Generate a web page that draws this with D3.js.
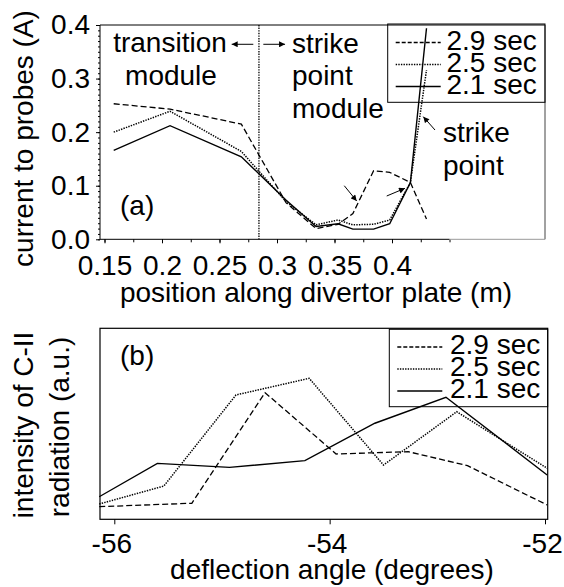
<!DOCTYPE html>
<html>
<head>
<meta charset="utf-8">
<script src="https://cdn.jsdelivr.net/npm/d3@7"></script>
<style>
  body { margin: 0; background: #fff; }
  svg text { font-family: "Liberation Sans", Arial, Helvetica, sans-serif; font-size: 28px; fill: #000; }
</style>
</head>
<body>
<svg width="564" height="587"></svg>
<script>
// ---- panel (a): current to probes vs position along divertor plate ----
const posA = [0.158, 0.207, 0.269, 0.308, 0.334, 0.353, 0.366, 0.384, 0.398, 0.416, 0.430];
const cur29 = [0.253, 0.243, 0.215, 0.068, 0.020, 0.028, 0.048, 0.128, 0.125, 0.106, 0.038];
const cur25 = [0.200, 0.239, 0.164, 0.070, 0.027, 0.036, 0.027, 0.028, 0.036, 0.106, 0.316];
const cur21 = [0.166, 0.212, 0.154, 0.073, 0.024, 0.029, 0.019, 0.019, 0.029, 0.106, 0.394];
const xTicksA = [0.15, 0.2, 0.25, 0.3, 0.35, 0.4];
const yTicksA = [0, 0.1, 0.2, 0.3, 0.4];
const moduleEdge = 0.2843;

// ---- panel (b): C-II intensity vs deflection angle ----
const ang29 = [-56.14, -55.28, -54.60, -53.94, -53.27, -52.72, -51.98];
const int29 = [0.066, 0.084, 0.663, 0.342, 0.354, 0.281, 0.075];
const ang25 = [-56.14, -55.54, -54.87, -54.19, -53.50, -52.82, -51.98];
const int25 = [0.080, 0.174, 0.651, 0.738, 0.284, 0.563, 0.267];
const ang21 = [-56.14, -55.60, -54.93, -54.23, -53.58, -52.92, -51.98];
const int21 = [0.118, 0.293, 0.272, 0.307, 0.503, 0.639, 0.232];
const xTicksB = [-56, -54, -52];

const seriesNames = ['2.9 sec', '2.5 sec', '2.1 sec'];
const dashes = ['6,3', '1.4,1.2', null];
const widths = [1.3, 1.5, 1.4];

const svg = d3.select('svg');

// scales
const xA = d3.scaleLinear().domain([0.15, 0.4]).range([104.5, 392]);
const yA = d3.scaleLinear().domain([0, 0.4]).range([239.3, 25]);
const xB = d3.scaleLinear().domain([-56, -52]).range([114.3, 545]);
const yB = d3.scaleLinear().domain([0, 1]).range([519.3, 328.3]);

const L = 100, RA = 545, RB = 547.7;

// arrow head marker
svg.append('defs').append('marker')
  .attr('id', 'head')
  .attr('viewBox', '0 0 10 10')
  .attr('refX', 10).attr('refY', 5)
  .attr('markerWidth', 7).attr('markerHeight', 6)
  .attr('markerUnits', 'userSpaceOnUse')
  .attr('orient', 'auto')
  .append('path').attr('d', 'M0,0L10,5L0,10z').attr('fill', '#000');

function drawLines(g, xs, ys, x, y) {
  const line = d3.line().x(d => x(d[0])).y(d => y(d[1]));
  ys.forEach(function (vals, i) {
    g.append('path')
      .datum(xs[i].map((v, j) => [v, vals[j]]))
      .attr('d', line)
      .attr('fill', 'none')
      .attr('stroke', '#000')
      .attr('stroke-width', widths[i])
      .attr('stroke-dasharray', dashes[i]);
  });
}

function legend(g, x0, y0, w, h, lineY, textX) {
  g.append('rect').attr('x', x0).attr('y', y0).attr('width', w).attr('height', h)
    .attr('fill', 'none').attr('stroke', '#000');
  seriesNames.forEach(function (s, i) {
    const ly = lineY + i * 22;
    g.append('line').attr('x1', x0 + 8).attr('x2', x0 + 53).attr('y1', ly).attr('y2', ly)
      .attr('stroke', '#000').attr('stroke-width', widths[i])
      .attr('stroke-dasharray', i === 0 ? '4,2' : dashes[i]);
    g.append('text').attr('x', textX).attr('y', ly + 7).text(s);
  });
}

function arrow(g, x1, y1, x2, y2) {
  g.append('line').attr('x1', x1).attr('y1', y1).attr('x2', x2).attr('y2', y2)
    .attr('stroke', '#000').attr('stroke-width', 1)
    .attr('marker-end', 'url(#head)');
}

// ===== panel (a) =====
const ga = svg.append('g');

// minor ticks
ga.append('g').attr('transform', 'translate(' + L + ',0)')
  .call(d3.axisLeft(yA).tickValues(d3.range(0, 0.4001, 0.01)).tickSize(2).tickFormat(''))
  .call(g => g.select('.domain').remove());
ga.append('g').attr('transform', 'translate(0,' + yA(0) + ')')
  .call(d3.axisBottom(xA).tickValues(d3.range(0.15, 0.4501, 0.025)).tickSize(3).tickFormat(''))
  .call(g => g.select('.domain').remove());

// major axes
ga.append('g').attr('transform', 'translate(' + L + ',0)')
  .call(d3.axisLeft(yA).tickValues(yTicksA).tickSize(4).tickPadding(6)
    .tickFormat(d3.format('.1f')))
  .call(g => g.select('.domain').remove())
  .call(g => g.selectAll('text').style('font-size', '28px').attr('fill', '#000'));
ga.append('g').attr('transform', 'translate(0,' + yA(0) + ')')
  .call(d3.axisBottom(xA).tickValues(xTicksA).tickSize(4).tickPadding(12)
    .tickFormat(d => String(+d.toFixed(2))))
  .call(g => g.select('.domain').remove())
  .call(g => g.selectAll('text').style('font-size', '28px').attr('fill', '#000'));

// frame
ga.append('line').attr('x1', L).attr('x2', RA).attr('y1', yA(0.4)).attr('y2', yA(0.4)).attr('stroke', '#000');
ga.append('line').attr('x1', L).attr('x2', L).attr('y1', yA(0.4)).attr('y2', yA(0)).attr('stroke', '#000');
ga.append('line').attr('x1', RA).attr('x2', RA).attr('y1', yA(0.4)).attr('y2', yA(0)).attr('stroke', '#444');
ga.append('line').attr('x1', L).attr('x2', xA(0.45)).attr('y1', yA(0)).attr('y2', yA(0)).attr('stroke', '#000');
ga.append('line').attr('x1', xA(0.45)).attr('x2', RA).attr('y1', yA(0)).attr('y2', yA(0)).attr('stroke', '#999');

// module boundary
ga.append('line').attr('x1', xA(moduleEdge)).attr('x2', xA(moduleEdge))
  .attr('y1', yA(0.4)).attr('y2', yA(0))
  .attr('stroke', '#000').attr('stroke-width', 1.3).attr('stroke-dasharray', '1.4,1.2');

legend(ga, 387.7, 24, RA - 387.7, 78.3, 42.5, 446.5);

drawLines(ga, [posA, posA, posA], [cur29, cur25, cur21], xA, yA);

// annotations (a)
ga.append('text').attr('x', 170).attr('y', 52).attr('text-anchor', 'middle').text('transition');
ga.append('text').attr('x', 171).attr('y', 85).attr('text-anchor', 'middle').text('module');
ga.append('text').attr('x', 292).attr('y', 52.5).text('strike');
ga.append('text').attr('x', 292).attr('y', 85).text('point');
ga.append('text').attr('x', 292).attr('y', 118).text('module');
ga.append('text').attr('x', 443).attr('y', 141.5).text('strike');
ga.append('text').attr('x', 443).attr('y', 175).text('point');
ga.append('text').attr('x', 120).attr('y', 215).text('(a)');
arrow(ga, xA(0.2794), yA(0.364), xA(0.2606), yA(0.364));
arrow(ga, xA(0.2881), yA(0.364), xA(0.3070), yA(0.364));
arrow(ga, xA(0.3585), yA(0.100), xA(0.3693), yA(0.0715));
arrow(ga, xA(0.3954), yA(0.0808), xA(0.4113), yA(0.0952));
arrow(ga, xA(0.4374), yA(0.204), xA(0.4272), yA(0.2289));

ga.append('text').attr('transform', 'translate(33,138.5) rotate(-90)')
  .attr('text-anchor', 'middle').text('current to probes (A)');
ga.append('text').attr('x', 316).attr('y', 302).attr('text-anchor', 'middle')
  .text('position along divertor plate (m)');

// ===== panel (b) =====
const gb = svg.append('g');

gb.append('rect').attr('x', L).attr('y', yB(1)).attr('width', RB - L).attr('height', yB(0) - yB(1))
  .attr('fill', 'none').attr('stroke', '#000').attr('stroke-width', 1.2);

gb.append('g').attr('transform', 'translate(0,' + yB(0) + ')')
  .call(d3.axisBottom(xB).tickValues(xTicksB).tickSize(5).tickPadding(9).tickFormat(d => String(d)))
  .call(g => g.select('.domain').remove())
  .call(g => g.selectAll('text').style('font-size', '28px').attr('fill', '#000').attr('dx', '-3'));

legend(gb, 389.3, 329.3, RB - 389.3, 77.4, 347, 450);

drawLines(gb, [ang29, ang25, ang21], [int29, int25, int21], xB, yB);

gb.append('text').attr('x', 120).attr('y', 365).text('(b)');
gb.append('text').attr('transform', 'translate(33,425) rotate(-90)')
  .attr('text-anchor', 'middle').text('intensity of C-II');
gb.append('text').attr('transform', 'translate(69,427) rotate(-90)')
  .attr('text-anchor', 'middle').text('radiation (a.u.)');
gb.append('text').attr('x', 332).attr('y', 579).attr('text-anchor', 'middle')
  .text('deflection angle (degrees)');
</script>
</body>
</html>
